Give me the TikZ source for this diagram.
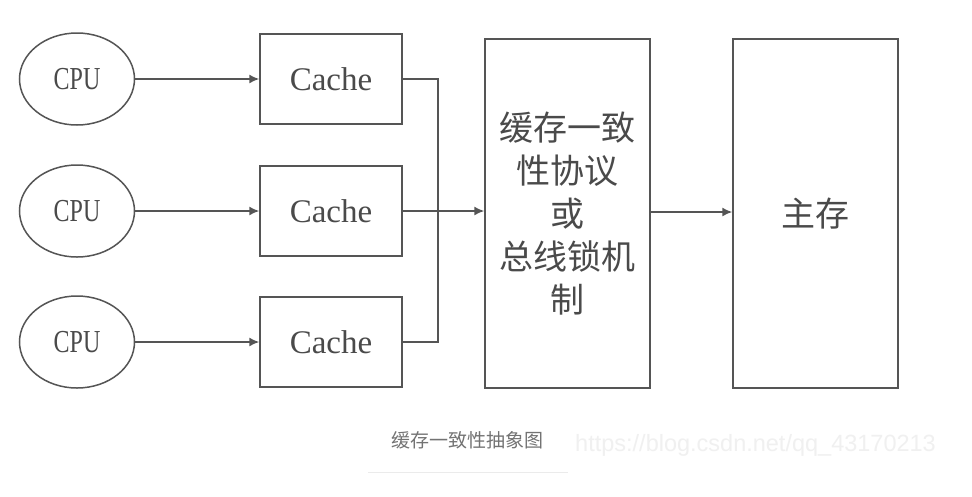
\documentclass[tikz,border=0pt]{standalone}
\usepackage{fontspec}
\setmainfont{Liberation Serif}
\newfontfamily\cjk{Noto Sans CJK SC}
\newfontfamily\urlfont{Liberation Sans}
\usetikzlibrary{shapes.geometric,arrows.meta}
\definecolor{linec}{HTML}{555555}
\definecolor{textc}{HTML}{4A4A4A}
\tikzset{
  cpubox/.style={ellipse,draw=linec,line width=1.5pt,minimum width=115pt,minimum height=92pt,inner sep=0pt,
    text=textc,font=\fontsize{32}{36}\selectfont},
  cachebox/.style={rectangle,draw=linec,line width=1.5pt,minimum width=142pt,minimum height=90pt,inner sep=0pt,
    text=textc,font=\fontsize{33}{38}\selectfont},
  bigbox/.style={rectangle,draw=linec,line width=1.5pt,minimum width=165pt,minimum height=349pt,inner sep=0pt,
    text=textc,align=center,font=\cjk\fontsize{34}{43}\selectfont},
  conn/.style={draw=linec,line width=1.5pt},
  arr/.style={conn,-{Latex[length=10pt,width=9pt]}},
}
\begin{document}
\begin{tikzpicture}[x=1pt,y=-1pt]
\useasboundingbox (0,0) rectangle (972,496);
\fill[white] (0,0) rectangle (972,496);
% CPUs
\node[cpubox] (cpu1) at (77,79) {\scalebox{0.75}[1]{CPU}};
\node[cpubox] (cpu2) at (77,211) {\scalebox{0.75}[1]{CPU}};
\node[cpubox] (cpu3) at (77,342) {\scalebox{0.75}[1]{CPU}};
% caches
\node[cachebox] (c1) at (331,79) {Cache};
\node[cachebox] (c2) at (331,211) {Cache};
\node[cachebox] (c3) at (331,342) {Cache};
% big boxes
\node[bigbox] (coh) at (567.5,213.5) {缓存一致\\性协议\\或\\总线锁机\\制};
\node[bigbox] (mem) at (815.5,213.5) {主存};
% bus junction
\coordinate (bt) at (438,79);
\coordinate (bb) at (438,342);
% connectors
\draw[arr] (cpu1) -- (c1);
\draw[arr] (cpu2) -- (c2);
\draw[arr] (cpu3) -- (c3);
\draw[conn] (c1.east) -- (bt) -- (bb) -- (c3.east);
\draw[arr] (c2.east) -- (coh.west |- c2.east);
\draw[arr] (coh.east |- 0,212) -- (mem.west |- 0,212);
% caption
\node[text=black!55,font=\cjk\fontsize{19}{22}\selectfont,inner sep=0pt] (cap) at (467.5,440) {缓存一致性抽象图};
\node[text=black!6,font=\urlfont\fontsize{23.5}{26}\selectfont,inner sep=0pt,anchor=west] (url) at (575,445) {https://blog.csdn.net/qq\_43170213};
\coordinate (ul1) at (368,472);
\coordinate (ul2) at (568,472);
\draw[black!8,line width=1pt] (ul1) -- (ul2);
\end{tikzpicture}
\end{document}
